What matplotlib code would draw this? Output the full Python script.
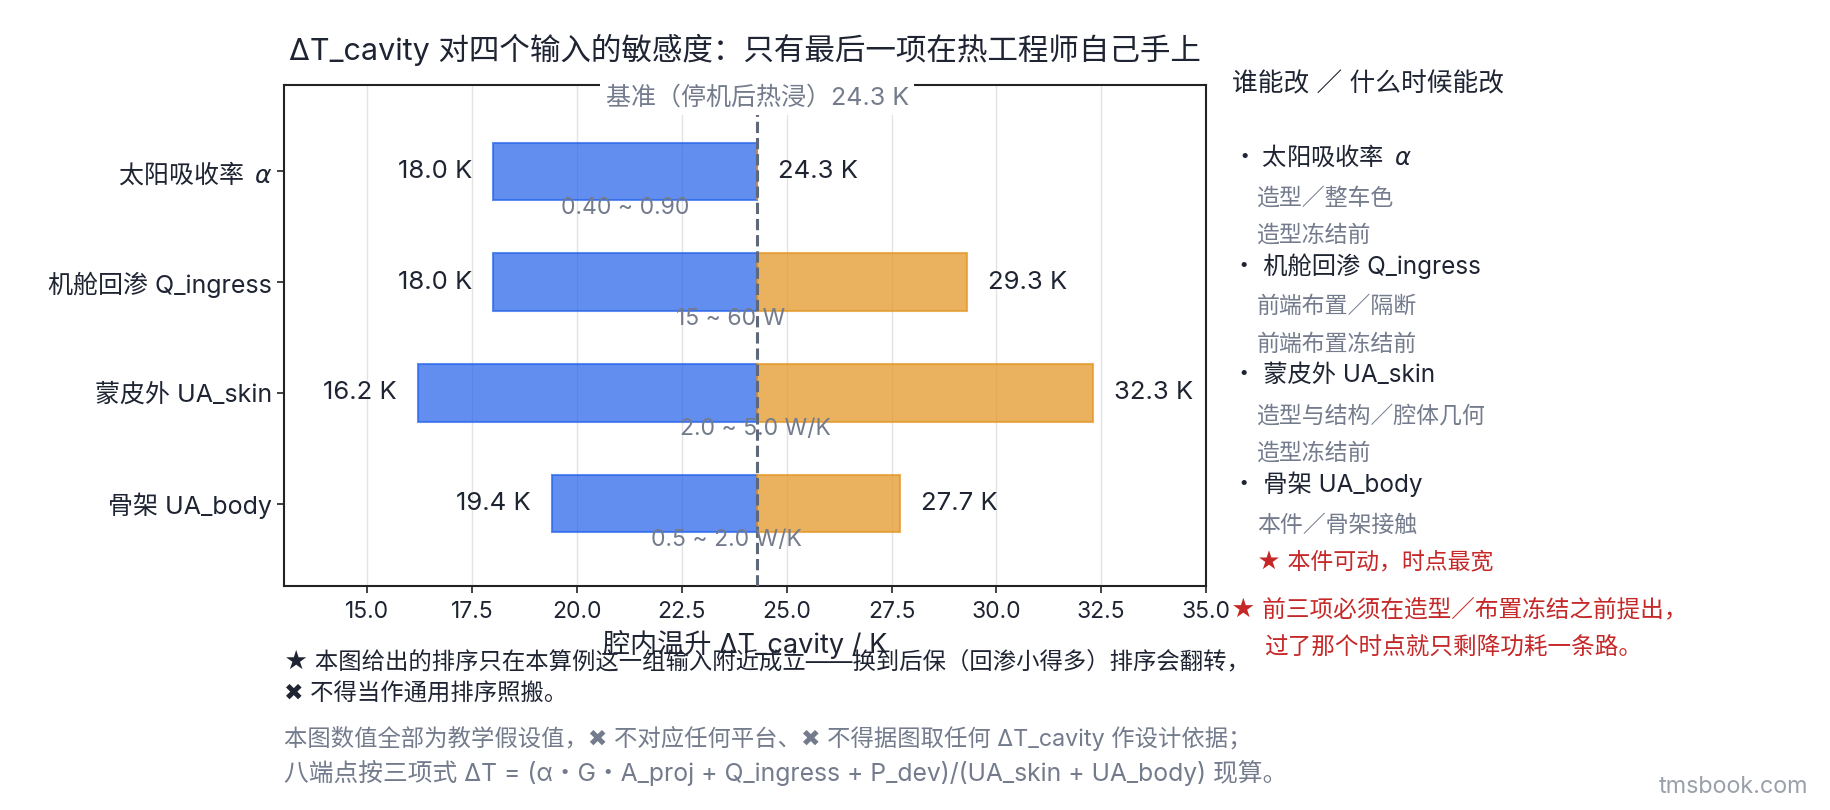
import matplotlib
matplotlib.use("Agg")
import matplotlib.pyplot as plt
import numpy as np

plt.rcParams['font.family'] = ['Inter', 'Noto Sans CJK SC', 'DejaVu Sans']
plt.rcParams['axes.unicode_minus'] = False
CJK_FIRST = ['Noto Sans CJK SC', 'DejaVu Sans']  # 含 mathtext 的文字用这个

# 数据
labels = ['太阳吸收率  $\\alpha$', '机舱回渗 Q_ingress', '蒙皮外 UA_skin', '骨架 UA_body']
low_vals = [18.0, 18.0, 16.2, 19.4]
high_vals = [24.3, 29.3, 32.3, 27.7]
ranges = ['0.40 ~ 0.90', '15 ~ 60 W', '2.0 ~ 5.0 W/K', '0.5 ~ 2.0 W/K']
base = 24.3

who_items = ['太阳吸收率  $\\alpha$', '机舱回渗 Q_ingress', '蒙皮外 UA_skin', '骨架 UA_body']
who_what = ['造型／整车色', '前端布置／隔断', '造型与结构／腔体几何', '本件／骨架接触']
who_when = ['造型冻结前', '前端布置冻结前', '造型冻结前', None]

DARK = '#1f2433'
GRAY = '#737b8c'
RED = '#c62828'
BLUE = '#2563eb'
ORANGE = '#e39522'

fig = plt.figure(figsize=(18.3, 8.1), dpi=100)
ax = fig.add_axes([0.155, 0.277, 0.504, 0.618])

y = np.arange(len(labels))
bh = 0.52
ax.barh(y, np.array([base] * 4) - np.array(low_vals), left=low_vals, height=bh,
        color=BLUE, alpha=0.72, edgecolor=BLUE, linewidth=1.5, zorder=2)
ax.barh(y, np.array(high_vals) - base, left=base, height=bh,
        color=ORANGE, alpha=0.72, edgecolor=ORANGE, linewidth=1.5, zorder=2)

for i in range(len(labels)):
    ax.text(low_vals[i] - 0.5, y[i], f'{low_vals[i]:.1f} K', ha='right', va='center',
            fontsize=18.5, color=DARK)
    ax.text(high_vals[i] + 0.5, y[i], f'{high_vals[i]:.1f} K', ha='left', va='center',
            fontsize=18.5, color=DARK)
    ax.text((low_vals[i] + high_vals[i]) / 2, y[i] + 0.33, ranges[i], ha='center', va='center',
            fontsize=16.5, color=GRAY, zorder=4)

ax.axvline(base, color='#5f6878', linestyle='--', linewidth=2.2, zorder=3)
ax.text(base, 0.975, f'基准（停机后热浸）{base} K', transform=ax.get_xaxis_transform(),
        ha='center', va='center', fontsize=18, color=GRAY, zorder=6, clip_on=False,
        bbox=dict(facecolor='white', edgecolor='none', pad=4))

ax.set_xlim(13, 35)
ax.set_ylim(3.74, -0.78)
ax.set_yticks(y)
ax.set_yticklabels(labels, fontsize=18, color=DARK)
ax.get_yticklabels()[0].set_family(CJK_FIRST)
ax.set_xticks(np.arange(15, 35.1, 2.5))
ax.set_xticklabels([f'{v:.1f}' for v in np.arange(15, 35.1, 2.5)], fontsize=16.5, color=DARK)
ax.tick_params(axis='both', length=5, width=1.2, color='#222222')
ax.tick_params(axis='x', pad=6)
ax.xaxis.grid(True, color='#e3e3e3', linewidth=1, zorder=0)
ax.set_axisbelow(True)
for s in ax.spines.values():
    s.set_color('#222222')
    s.set_linewidth(1.5)

ax.set_xlabel('腔内温升 ΔT_cavity / K', fontsize=19.5, color=DARK, labelpad=5)
ax.set_title('ΔT_cavity 对四个输入的敏感度：只有最后一项在热工程师自己手上',
             fontsize=22, color=DARK, pad=18)

# 右侧：谁能改 / 什么时候能改
fig.text(0.673, 0.896, '谁能改 ／ 什么时候能改', fontsize=18.5, color=DARK, va='center')
item_top = 0.806
step = 0.1345
for i in range(len(who_items)):
    yy = item_top - i * step
    fam = CJK_FIRST if '$' in who_items[i] else None
    fig.text(0.673, yy, '・ ' + who_items[i], fontsize=17.5, color=DARK, va='center', family=fam)
    fig.text(0.687, yy - 0.051, who_what[i], fontsize=16.5, color=GRAY, va='center')
    if who_when[i]:
        fig.text(0.687, yy - 0.097, who_when[i], fontsize=16.5, color=GRAY, va='center')
    else:
        fig.text(0.687, yy - 0.097, '★ 本件可动，时点最宽', fontsize=16.5, color=RED, va='center')

fig.text(0.6725, 0.247, '★ 前三项必须在造型／布置冻结之前提出，', fontsize=17, color=RED, va='center')
fig.text(0.6905, 0.200, '过了那个时点就只剩降功耗一条路。', fontsize=17, color=RED, va='center')

# 底部注释
fig.text(0.155, 0.182, '★ 本图给出的排序只在本算例这一组输入附近成立——换到后保（回渗小得多）排序会翻转，',
         fontsize=16.8, color=DARK, va='center')
fig.text(0.155, 0.142, '✖ 不得当作通用排序照搬。', fontsize=16.8, color=DARK, va='center')
fig.text(0.155, 0.088, '本图数值全部为教学假设值，✖ 不对应任何平台、✖ 不得据图取任何 ΔT_cavity 作设计依据；',
         fontsize=16.8, color=GRAY, va='center')
fig.text(0.155, 0.046, '八端点按三项式 ΔT = (α・G・A_proj + Q_ingress + P_dev)/(UA_skin + UA_body) 现算。',
         fontsize=17.8, color=GRAY, va='center')
fig.text(0.988, 0.028, 'tmsbook.com', fontsize=16.8, color='#9aa0aa', ha='right', va='center')

fig.savefig('out.png', dpi=100, facecolor='white')
